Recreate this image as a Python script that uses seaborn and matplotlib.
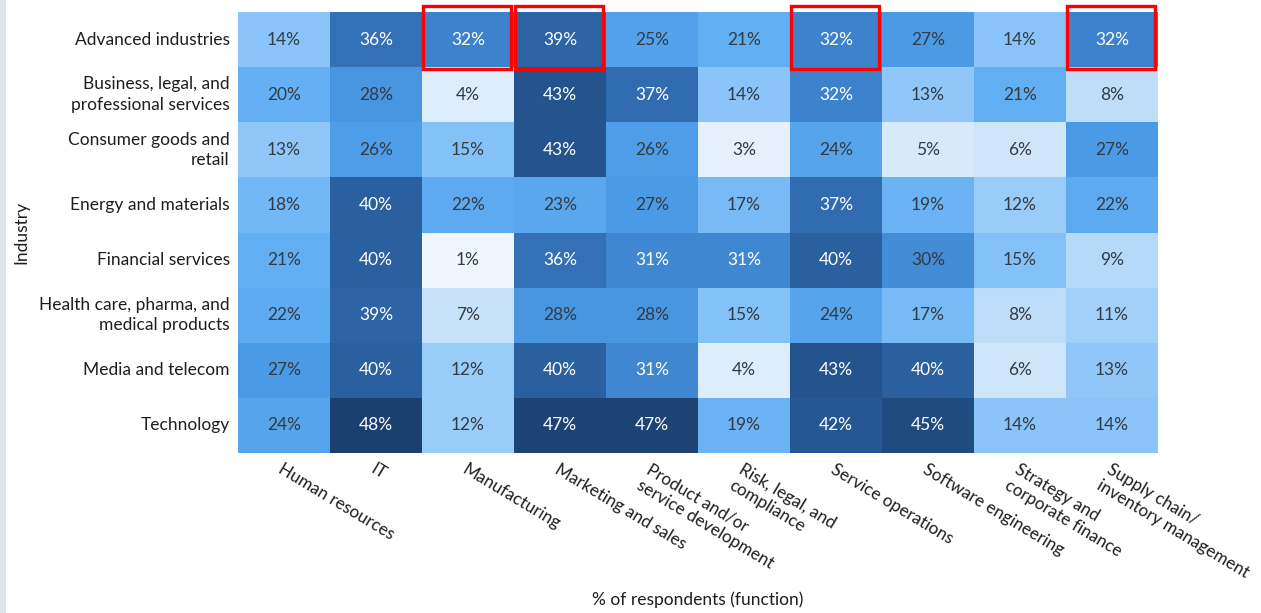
import pandas as pd
import matplotlib.pyplot as plt
import seaborn as sns
import numpy as np
from matplotlib.colors import LinearSegmentedColormap
from matplotlib.patches import Rectangle

# Data
industries = ['Advanced industries', 'Business, legal, and\nprofessional services',
              'Consumer goods and\nretail', 'Energy and materials', 'Financial services',
              'Health care, pharma, and\nmedical products', 'Media and telecom', 'Technology']
functions = ['Human resources', 'IT', 'Manufacturing', 'Marketing and sales',
             'Product and/or\nservice development', 'Risk, legal, and\ncompliance',
             'Service operations', 'Software engineering', 'Strategy and\ncorporate finance',
             'Supply chain/\ninventory management']

advanced = [14, 36, 32, 39, 25, 21, 32, 27, 14, 32]
business = [20, 28, 4, 43, 37, 14, 32, 13, 21, 8]
consumer = [13, 26, 15, 43, 26, 3, 24, 5, 6, 27]
energy = [18, 40, 22, 23, 27, 17, 37, 19, 12, 22]
financial = [21, 40, 1, 36, 31, 31, 40, 30, 15, 9]
health = [22, 39, 7, 28, 28, 15, 24, 17, 8, 11]
media = [27, 40, 12, 40, 31, 4, 43, 40, 6, 13]
technology = [24, 48, 12, 47, 47, 19, 42, 45, 14, 14]

# highlighted cells in the first row (column indices)
highlight_cols = [2, 3, 6, 9]

df = pd.DataFrame([advanced, business, consumer, energy, financial, health, media, technology],
                  index=industries, columns=functions)
labels = df.map(lambda v: f'{v}%')

cmap = LinearSegmentedColormap.from_list('blues_custom', [
    (0.00, '#eff6fd'), (0.10, '#d2e7fa'), (0.25, '#92c8f8'), (0.40, '#66b1f5'),
    (0.55, '#4b9be6'), (0.70, '#3879c2'), (0.85, '#285c9b'), (1.00, '#1b3f6e')])

sns.set_theme(style='white')
plt.rcParams['font.family'] = ['Lato', 'DejaVu Sans']

fig = plt.figure(figsize=(12.61, 6.13), dpi=100)
ax = fig.add_axes([238 / 1261, 1 - 453 / 613, 920 / 1261, 441 / 613])

sns.heatmap(df, annot=labels, fmt='', cmap=cmap, vmin=1, vmax=48, cbar=False,
            annot_kws={'fontsize': 12.5}, ax=ax)

# text colour: white on dark cells
for txt, v in zip(ax.texts, df.values.flatten()):
    txt.set_color('white' if v > 30 else '#333b44')

ax.tick_params(length=0, pad=6)
ax.set_yticklabels(industries, rotation=0, fontsize=12.5, color='#1e1e1e',
                   ha='right', multialignment='right', linespacing=1.35)
ax.set_xticks(np.arange(len(functions)) + 0.5)
ax.set_xticklabels(functions, rotation=-31, fontsize=12.3, color='#1e1e1e',
                   ha='left', va='top', rotation_mode='anchor', multialignment='left',
                   linespacing=1.2)
ax.set_ylabel('Industry', fontsize=12.5, color='#1e1e1e')
ax.yaxis.set_label_coords(-0.227, 0.5)
ax.set_xlabel('% of respondents (function)', fontsize=12.5, color='#1e1e1e')
ax.xaxis.set_label_coords(0.5, -0.315)

# red boxes around highlighted cells
for c in highlight_cols:
    ax.add_patch(Rectangle((c + 0.01, -0.1), 0.96, 1.13, fill=False,
                           edgecolor='#ff0000', linewidth=2.4, clip_on=False, zorder=5))

# thin grey strip on the left edge of the screenshot
fig.patches.append(Rectangle((0, 0), 6 / 1261, 1, transform=fig.transFigure,
                             facecolor='#dde5ea', edgecolor='none'))

plt.savefig('out.png', dpi=100)
